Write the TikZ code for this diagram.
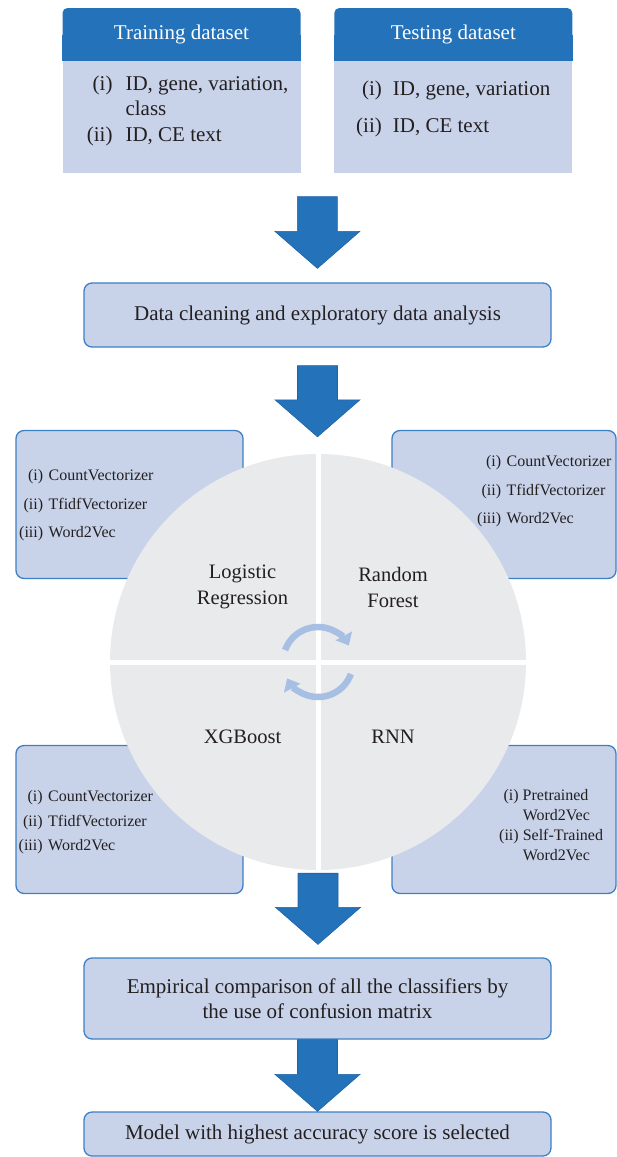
\documentclass[tikz,border=0pt]{standalone}
\usepackage{fontspec}
\setmainfont{Liberation Serif}
\usepackage{tikz}
\usetikzlibrary{arrows.meta, positioning, calc, backgrounds}
\definecolor{headblue}{HTML}{2472BA}
\definecolor{arrowedge}{HTML}{1F62A6}
\definecolor{bodyblue}{HTML}{C8D3EA}
\definecolor{edgeblue}{HTML}{3D80C6}
\definecolor{wheelgrey}{HTML}{E9EAEC}
\definecolor{cycleblue}{HTML}{A8BFE4}
\definecolor{inkdark}{HTML}{231F20}

% block arrow pointing down, from #1 (top of shaft) to #2 (tip)
\newcommand{\bigdown}[2]{%
  \path[bigarrow] let \p1=(#1), \p2=(#2) in
    (\x1-20pt,\y1) -- (\x1+20pt,\y1) -- (\x1+20pt,\y2+37pt) -- (\x1+42.5pt,\y2+37pt)
    -- (\x1,\y2) -- (\x1-42.5pt,\y2+37pt) -- (\x1-20pt,\y2+37pt) -- cycle;}

\begin{document}
\begin{tikzpicture}[
  x=1pt, y=-1pt,
  headbox/.style={fill=headblue, rounded corners=5pt, text=white, minimum width=238pt, minimum height=53pt, inner sep=0pt, font=\fontsize{21}{25}\selectfont},
  databody/.style={fill=bodyblue, minimum width=238pt, minimum height=112pt, inner sep=0pt},
  sidebox/.style={draw=edgeblue, fill=bodyblue, line width=1.3pt, rounded corners=8pt, minimum width=227pt, minimum height=148pt, inner sep=0pt},
  stagebox/.style={draw=edgeblue, fill=bodyblue, line width=1.3pt, rounded corners=8pt, minimum width=467pt, inner sep=0pt, align=center, text=inkdark, font=\fontsize{21}{25}\selectfont},
  items/.style={anchor=west, inner sep=0pt, text=inkdark, font=\fontsize{21}{25.5}\selectfont},
  smallitems/.style={anchor=west, inner sep=0pt, text=inkdark, font=\fontsize{16}{19.5}\selectfont},
  quarter/.style={align=center, inner sep=0pt, text=inkdark, font=\fontsize{20.5}{26}\selectfont},
  bigarrow/.style={fill=headblue, draw=arrowedge, line width=0.6pt},
  cyclearrow/.style={draw=cycleblue, line width=6.5pt, -{Triangle[width=18pt,length=11pt]}},
]
  \useasboundingbox (0,0) rectangle (617,1157);

  % Datasets
  \node[headbox] (trainhead) at (181.5,34.5) {Training dataset};
  \node[databody, below=0pt of trainhead] (trainbody) {};
  \node[items] (trainitems) at (86.7,110.5) {%
    \begin{tabular}{@{}r@{\hspace{13pt}}l@{}}
      (i) & ID, gene, variation,\\
          & class\\
      (ii) & ID, CE text
    \end{tabular}};

  \node[headbox] (testhead) at (453.3,34.5) {Testing dataset};
  \node[databody, below=0pt of testhead] (testbody) {};
  \node[items] (testitems) at (356,108.5) {%
    \begin{tabular}{@{}r@{\hspace{11pt}}l@{}}
      (i) & ID, gene, variation\\[11.5pt]
      (ii) & ID, CE text
    \end{tabular}};

  % square off the lower corners of the headers
  \begin{scope}[on background layer]
    \fill[headblue] (trainhead.west) rectangle (trainhead.south east);
    \fill[headblue] (testhead.west) rectangle (testhead.south east);
  \end{scope}

  % Cleaning
  \node[stagebox, minimum height=64pt] (clean) at (317.5,315) {Data cleaning and exploratory data analysis};

  % Feature boxes
  \node[sidebox] (lrbox) at (129.5,504.5) {};
  \node[sidebox, minimum width=224pt] (rfbox) at (504,504.5) {};
  \node[sidebox] (xgbox) at (129.5,819.5) {};
  \node[sidebox, minimum width=224pt] (rnnbox) at (504,819.5) {};

  \node[smallitems] (lritems) at (19,505.5) {%
    \begin{tabular}{@{}r@{\hspace{5.5pt}}l@{}}
      (i) & CountVectorizer\\[9pt]
      (ii) & TfidfVectorizer\\[9pt]
      (iii) & Word2Vec
    \end{tabular}};
  \node[smallitems] (rfitems) at (477,491.5) {%
    \begin{tabular}{@{}r@{\hspace{5.5pt}}l@{}}
      (i) & CountVectorizer\\[9pt]
      (ii) & TfidfVectorizer\\[9pt]
      (iii) & Word2Vec
    \end{tabular}};
  \node[smallitems] (xgitems) at (18.5,822.5) {%
    \begin{tabular}{@{}r@{\hspace{5.5pt}}l@{}}
      (i) & CountVectorizer\\[5pt]
      (ii) & TfidfVectorizer\\[5pt]
      (iii) & Word2Vec
    \end{tabular}};
  \node[smallitems, font=\fontsize{16}{19.7}\selectfont] (rnnitems) at (499,826.5) {%
    \begin{tabular}{@{}r@{\hspace{4pt}}l@{}}
      (i) & Pretrained\\
          & Word2Vec\\
      (ii) & Self-Trained\\
           & Word2Vec
    \end{tabular}};

  % Classifier wheel
  \node[circle, fill=wheelgrey, minimum size=416pt, inner sep=0pt] (wheel) at (318,662) {};
  \draw[white, line width=5pt] (wheel.north) -- (wheel.south);
  \draw[white, line width=5pt] (wheel.west) -- (wheel.east);
  \node[quarter] (logreg) at ($(wheel)+(-75.5,-75)$) {Logistic\\Regression};
  \node[quarter] (ranfor) at ($(wheel)+(75,-75)$) {Random\\Forest};
  \node[quarter] (xgb) at ($(wheel)+(-75.5,75)$) {XGBoost};
  \node[quarter] (rnn) at ($(wheel)+(75,75)$) {RNN};
  \draw[cyclearrow] ([shift={(160:35pt)}]wheel.center) arc[start angle=160, end angle=28, radius=35pt];
  \draw[cyclearrow] ([shift={(-20:35pt)}]wheel.center) arc[start angle=-20, end angle=-152, radius=35pt];

  % Comparison and selection
  \node[stagebox, minimum height=81pt] (empir) at (317.5,998.5) {Empirical comparison of all the classifiers by\\the use of confusion matrix};
  \node[stagebox, minimum height=44pt] (model) at (317.5,1134) {Model with highest accuracy score is selected};

  % Arrows
  \coordinate (a1top) at ($(trainbody.south)!0.5!(testbody.south)+(0,23)$);
  \coordinate (a1tip) at ($(clean.north)+(0,-14)$);
  \coordinate (a2top) at ($(clean.south)+(0,18)$);
  \coordinate (a2tip) at ($(wheel.north)+(0,-17)$);
  \coordinate (a3top) at ($(wheel.south)+(0,3)$);
  \coordinate (a3tip) at ($(empir.north)+(0,-13)$);
  \bigdown{a1top}{a1tip}
  \bigdown{a2top}{a2tip}
  \bigdown{a3top}{a3tip}
  \bigdown{empir.south}{model.north}

\end{tikzpicture}
\end{document}
